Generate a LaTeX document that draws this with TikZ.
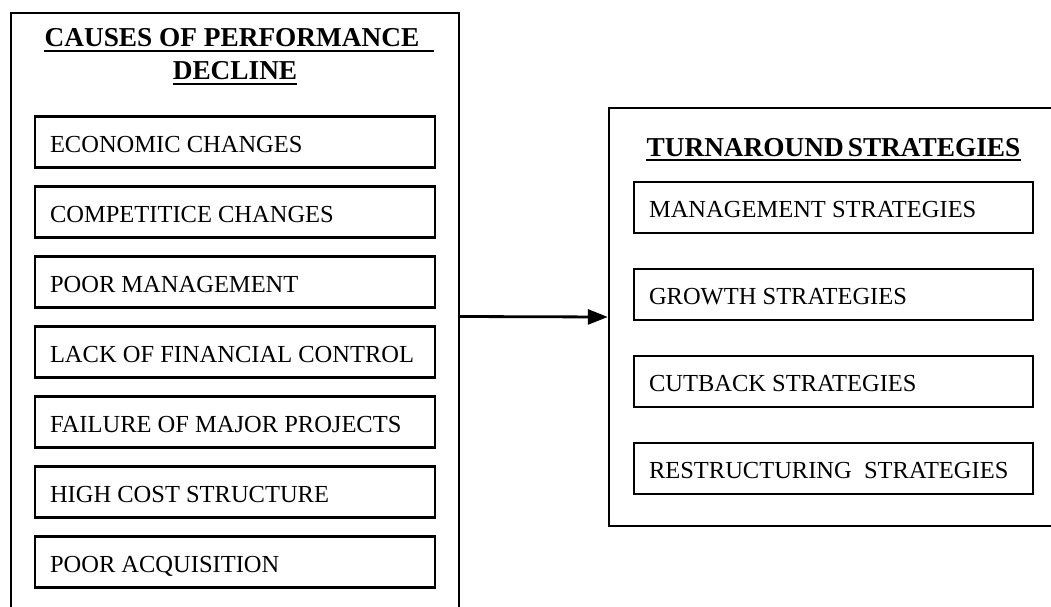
\documentclass[tikz,border=0pt]{standalone}
\usepackage{fontspec}
\setmainfont{Liberation Serif}
\usetikzlibrary{arrows.meta}
% one-line label, left-aligned in a fixed-width slot
\newcommand\slot[2][370pt]{\makebox[#1][l]{#2}}
\begin{document}
\begin{tikzpicture}[x=1pt,y=-1pt,
  frame/.style={draw, line width=2.4pt, inner sep=0pt},
  item/.style={draw, line width=2.3pt, inner xsep=15pt, inner ysep=0pt,
    minimum height=51pt, text height=20pt, text depth=0pt,
    font=\fontsize{24.5}{29}\selectfont},
  heading/.style={inner sep=0pt, font=\bfseries\fontsize{27.3}{32}\selectfont},
  uline/.style={line width=1.8pt}]
\useasboundingbox (0,0) rectangle (1051,607);
\clip (0,0) rectangle (1051,607);

% left panel: causes
\node[frame, minimum width=448pt, minimum height=607pt] (causes) at (235,316.5) {};
\node[heading, anchor=base] (ct1) at (232,47) {CAUSES OF PERFORMANCE};
\node[heading, anchor=base] (ct2) at (235,80) {DECLINE};
\draw[uline] ([yshift=-4pt]ct1.base west) -- ([xshift=14pt,yshift=-4pt]ct1.base east);
\draw[uline] ([yshift=-4pt]ct2.base west) -- ([yshift=-4pt]ct2.base east);

\node[item] (c1) at (235,142) {\slot{ECONOMIC CHANGES}};
\node[item] (c2) at (235,212) {\slot{COMPETITICE CHANGES}};
\node[item] (c3) at (235,282) {\slot{POOR MANAGEMENT}};
\node[item] (c4) at (235,352) {\slot{LACK OF FINANCIAL CONTROL}};
\node[item] (c5) at (235,422) {\slot{FAILURE OF MAJOR PROJECTS}};
\node[item] (c6) at (235,492) {\slot{HIGH COST STRUCTURE}};
\node[item] (c7) at (235,562) {\slot{POOR ACQUISITION}};

% right panel: strategies
\node[frame, minimum width=453pt, minimum height=418pt] (turn) at (835.5,317) {};
\node[heading, anchor=base] (tt) at (833.5,156) {TURNAROUND\hspace{0.15em}STRATEGIES};
\draw[uline] ([yshift=-4pt]tt.base west) -- ([yshift=-4pt]tt.base east);

\node[item] (s1) at (833.5,207.5) {\slot[369pt]{MANAGEMENT STRATEGIES}};
\node[item] (s2) at (833.5,294.5) {\slot[369pt]{GROWTH STRATEGIES}};
\node[item] (s3) at (833.5,381.5) {\slot[369pt]{CUTBACK STRATEGIES}};
\node[item] (s4) at (833.5,468.5) {\slot[369pt]{RESTRUCTURING\ \ STRATEGIES}};

% link between the panels
\draw[line width=2.8pt, -{Triangle[length=20pt,width=15pt]}] (causes.east) -- (turn.west);
\end{tikzpicture}
\end{document}
